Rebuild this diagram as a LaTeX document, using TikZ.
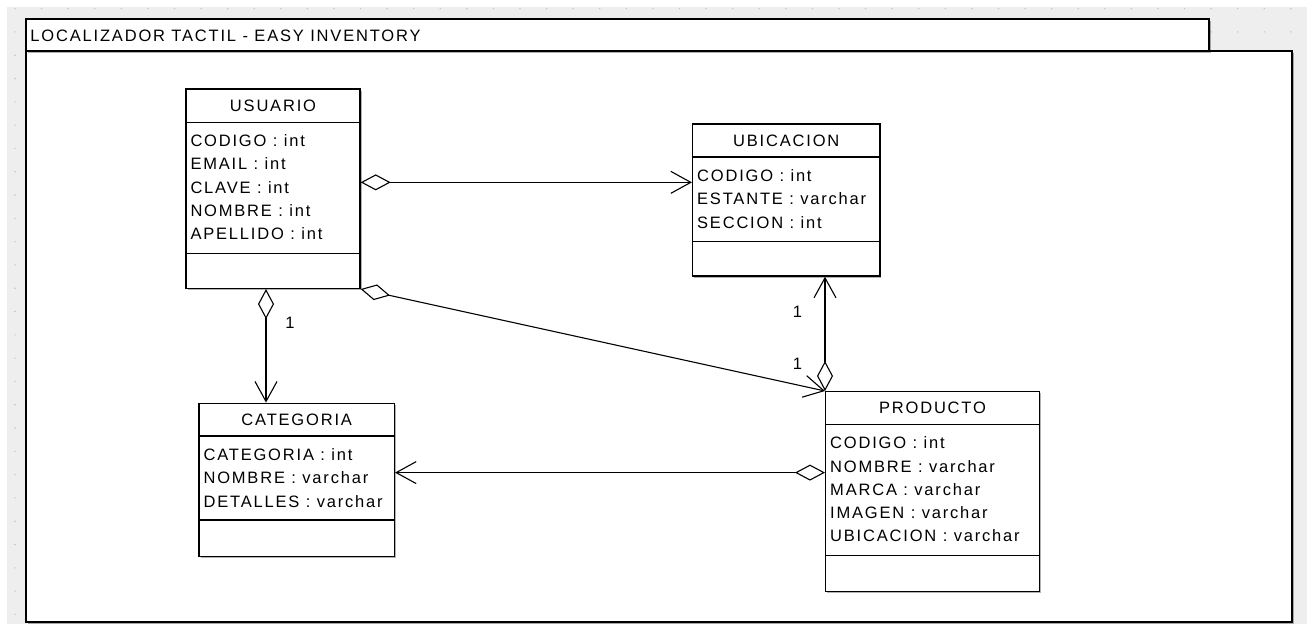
\documentclass[tikz,border=0pt]{standalone}
\usepackage{fontspec}
\setmainfont{Liberation Sans}[LetterSpace=11]
\usetikzlibrary{arrows.meta,calc,shadows}
\definecolor{canvasgray}{HTML}{EEEEEE}
\definecolor{griddot}{HTML}{C4C4C4}

\tikzset{
  boxline/.style={draw=black, line width=1.4pt},
  classbox/.style={boxline, fill=white, rectangle, inner sep=0pt,
    drop shadow={shadow xshift=1.5pt, shadow yshift=-1.5pt, opacity=0.3, fill=black}},
  divider/.style={draw=black, line width=1.1pt},
  umltext/.style={inner sep=0pt, text height=11.8pt, text depth=0pt,
    font=\fontsize{16.5pt}{19pt}\selectfont},
  assoc/.style={draw=black, line width=1.1pt,
    {Diamond[length=30pt,width=16pt,fill=white]}-{Straight Barb[length=20pt,width=22pt]}},
}

% #1 name, #2/#3 centre, #4 width, #5 height, #6 header height,
% #7 operations compartment height, #8 class name, #9 attributes
\newcommand\umlclass[9]{%
  \node[classbox, minimum width=#4pt, minimum height=#5pt] (#1) at (#2,#3) {};
  \draw[divider] ($(#1.north west)+(0,#6)$) -- ($(#1.north east)+(0,#6)$);
  \draw[divider] ($(#1.south west)+(0,-#7)$) -- ($(#1.south east)+(0,-#7)$);
  \node[umltext] (#1-title) at ($(#1.north)+(0,#6/2)$) {#8};
  \foreach \t [count=\i] in {#9}
    \node[umltext, anchor=west] (#1-attr\i) at ($(#1.north west)+(5,{#6+18.5+23.3*(\i-1)})$) {\t};
}

\begin{document}
\begin{tikzpicture}[x=1pt, y=-1pt]
  % page and dotted canvas
  \fill[white] (0,0) rectangle (1314,624);
  \useasboundingbox (0,0) rectangle (1314,624);
  \fill[canvasgray] (7,7) rectangle (1307,624);
  \foreach \i in {0,...,48}
    \foreach \j in {0,...,26}
      \fill[griddot] (15+26.58*\i, 8.6+23.3*\j) circle (0.8);

  % frame
  \node[classbox, minimum width=1266pt, minimum height=571pt] (frame) at (659,336.5) {};
  \node[classbox, minimum width=1183pt, minimum height=32pt] (frametab) at (617.5,35) {};
  \node[umltext, anchor=west] (frametitle) at ($(frametab.west)+(5,1)$) {LOCALIZADOR TACTIL - EASY INVENTORY};

  % classes
  \umlclass{usuario}{273}{188.7}{174}{199.3}{33.7}{35.3}{USUARIO}
    {CODIGO : int, EMAIL : int, CLAVE : int, NOMBRE : int, APELLIDO : int}
  \umlclass{ubicacion}{786.3}{200}{187.3}{152}{33.7}{35}{UBICACION}
    {CODIGO : int, ESTANTE : varchar, SECCION : int}
  \umlclass{categoria}{296.7}{480}{195.3}{153.4}{33.4}{37.4}{CATEGORIA}
    {CATEGORIA : int, NOMBRE : varchar, DETALLES : varchar}
  \umlclass{producto}{932.5}{491.7}{213.6}{200}{33.3}{36.7}{PRODUCTO}
    {CODIGO : int, NOMBRE : varchar, MARCA : varchar, IMAGEN : varchar, UBICACION : varchar}

  % associations
  \coordinate (u1) at ($(usuario.north east)+(0,94)$);
  \draw[assoc] (u1) -- (u1 -| ubicacion.west);

  \draw[assoc] (usuario.south east) -- (producto.north west);

  \coordinate (u3) at ($(usuario.south)+(-7,0)$);
  \draw[assoc] (u3) -- (u3 |- categoria.north);

  \draw[assoc] (producto.north west) -- (producto.north west |- ubicacion.south);

  \coordinate (p5) at ($(producto.north west)+(0,81.6)$);
  \draw[assoc] (p5) -- (p5 -| categoria.east);

  % multiplicities
  \node[umltext] (m1) at (290,323) {1};
  \node[umltext] (m2) at (797.5,311.7) {1};
  \node[umltext] (m3) at (797.5,364) {1};
\end{tikzpicture}
\end{document}
